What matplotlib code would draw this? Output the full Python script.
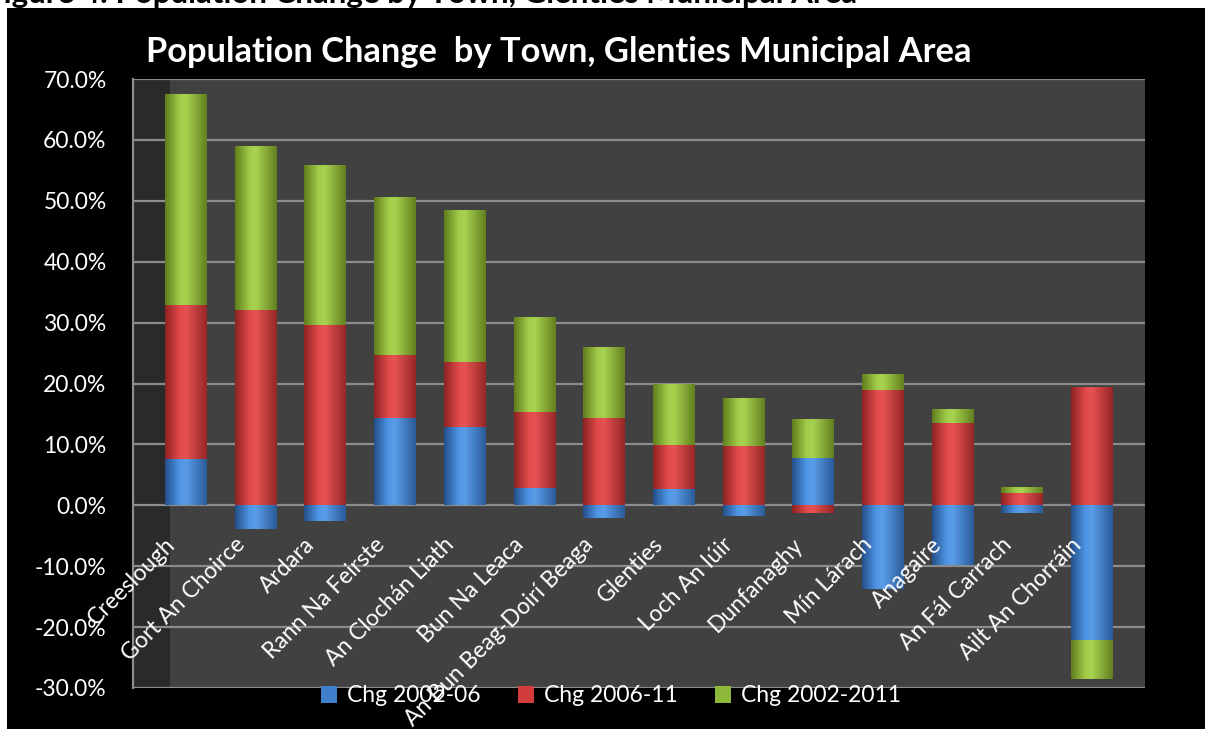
import numpy as np
import matplotlib
matplotlib.use("Agg")
import matplotlib.pyplot as plt
from matplotlib.patches import Rectangle, Patch
from matplotlib.colors import LinearSegmentedColormap
from matplotlib.transforms import ScaledTranslation
from matplotlib import font_manager

# ---------------- data ----------------
towns = ["Creeslough", "Gort An Choirce", "Ardara", "Rann Na Feirste",
         "An Clochán Liath", "Bun Na Leaca", "An Bun Beag-Doirí Beaga",
         "Glenties", "Loch An Iúir", "Dunfanaghy", "Mín Lárach", "Anagaire",
         "An Fál Carrach", "Ailt An Chorráin"]
chg_2002_06 = [7.6, -3.9, -2.5, 14.3, 12.9, 2.9, -2.1, 2.7, -1.7, 7.8, -13.8, -9.8, -1.3, -22.2]
chg_2006_11 = [25.3, 32.1, 29.6, 10.3, 10.7, 12.4, 14.3, 7.2, 9.7, -1.3, 18.9, 13.5, 2.1, 19.5]
chg_2002_2011 = [34.7, 26.9, 26.3, 26.0, 24.9, 15.6, 11.7, 10.0, 8.0, 6.4, 2.6, 2.3, 0.9, -6.4]
series_names = ["Chg 2002-06", "Chg 2006-11", "Chg 2002-2011"]
y_ticks = [-30, -20, -10, 0, 10, 20, 30, 40, 50, 60, 70]
title = "Population Change  by Town, Glenties Municipal Area"
header = "Figure 4: Population Change by Town, Glenties Municipal Area"

# ---------------- fonts ----------------
def pick(cands):
    for c in cands:
        try:
            font_manager.findfont(c, fallback_to_default=False)
            return c
        except Exception:
            pass
    return "DejaVu Sans"

FONT = pick(["Lato", "Open Sans", "DejaVu Sans"])
plt.rcParams['font.family'] = [FONT, 'DejaVu Sans']
FS = 16.5

W, H = 1205, 729
fig = plt.figure(figsize=(W / 100, H / 100), dpi=100, facecolor='white')

# black background below the cut-off header strip
fig.patches.append(Rectangle((7 / W, 0), 1, 1 - 8 / H, transform=fig.transFigure,
                             facecolor='black', edgecolor='none', zorder=-10))
fig.text(857 / W, 1 - 3.5 / H, header, ha='right', va='baseline', fontsize=22.5,
         fontweight='bold', color='black')

ax = fig.add_axes([133 / W, 1 - 688 / H, (1145 - 133) / W, (688 - 79) / H])
ax.set_facecolor('#414141')
ax.set_xlim(-0.76, 13.76)
ax.set_ylim(-30, 70)
# dark side wall of the 3-D chart
ax.axvspan(-0.76, -0.23, color='#2a2a2a', zorder=0.5, lw=0)

# ---------------- bars ----------------
colors = ['#3f7fcc', '#d23c3c', '#8db83a']
grad_stops = [
    ['#234f8a', '#4f96e6', '#5a9de8', '#2a5a98'],
    ['#8e2222', '#e24a4a', '#e65252', '#962626'],
    ['#5f7d1c', '#a2cc4a', '#a8d350', '#627f1e'],
]
x = np.arange(len(towns))
pos_base = np.zeros(len(towns))
neg_base = np.zeros(len(towns))
bar_w = 0.6
grad = np.linspace(0, 1, 256).reshape(1, -1)
for vals, name, col, stops in zip([chg_2002_06, chg_2006_11, chg_2002_2011],
                                  series_names, colors, grad_stops):
    v = np.array(vals, dtype=float)
    bottom = np.where(v >= 0, pos_base, neg_base)
    bars = ax.bar(x, v, bar_w, bottom=bottom, color=col, zorder=2, lw=0, label=name)
    pos_base = pos_base + np.where(v >= 0, v, 0)
    neg_base = neg_base + np.where(v < 0, v, 0)
    cmap = LinearSegmentedColormap.from_list('c', list(zip([0, 0.35, 0.5, 1], stops)))
    for p in bars.patches:
        x0, y0 = p.get_x(), p.get_y()
        w, h = p.get_width(), p.get_height()
        im = ax.imshow(grad, extent=(x0, x0 + w, min(y0, y0 + h), max(y0, y0 + h)),
                       cmap=cmap, aspect='auto', zorder=2.5, interpolation='bilinear')
        im.set_clip_path(p)

ax.set_xlim(-0.76, 13.76)
ax.set_ylim(-30, 70)

# ---------------- axes styling ----------------
ax.set_yticks(y_ticks)
ax.set_yticklabels([f"{t:.1f}%" for t in y_ticks])
ax.tick_params(axis='y', length=0, pad=19, labelsize=FS, labelcolor='white')
ax.set_xticks([])
ax.yaxis.grid(True, color='#8c8c8c', lw=1.6, zorder=1)
ax.set_axisbelow(True)
for s in ['top', 'right', 'bottom']:
    ax.spines[s].set_visible(False)
ax.spines['left'].set_color('#8c8c8c')
ax.spines['left'].set_linewidth(1.6)

# category labels (45 deg, anchored just below the zero line)
off = ScaledTranslation(-0.14, -0.36, fig.dpi_scale_trans)
for i, name in enumerate(towns):
    ax.text(i, 0, name, transform=ax.transData + off, rotation=45,
            rotation_mode='anchor', ha='right', va='center', color='white',
            fontsize=FS, zorder=5, clip_on=False)

# title
fig.text(559 / W, 1 - 62 / H, title, ha='center', va='baseline', color='white',
         fontsize=24.8, fontweight='bold')

# legend
handles = [Patch(facecolor=c, edgecolor='none') for c in colors]
leg = fig.legend(handles, series_names, loc='center', bbox_to_anchor=(611 / W, 1 - 696 / H),
                 ncol=3, frameon=False, fontsize=FS, labelcolor='white',
                 handlelength=0.7, handleheight=0.7, handletextpad=0.45,
                 columnspacing=1.6)

fig.savefig('out.png', dpi=100, facecolor=fig.get_facecolor())
